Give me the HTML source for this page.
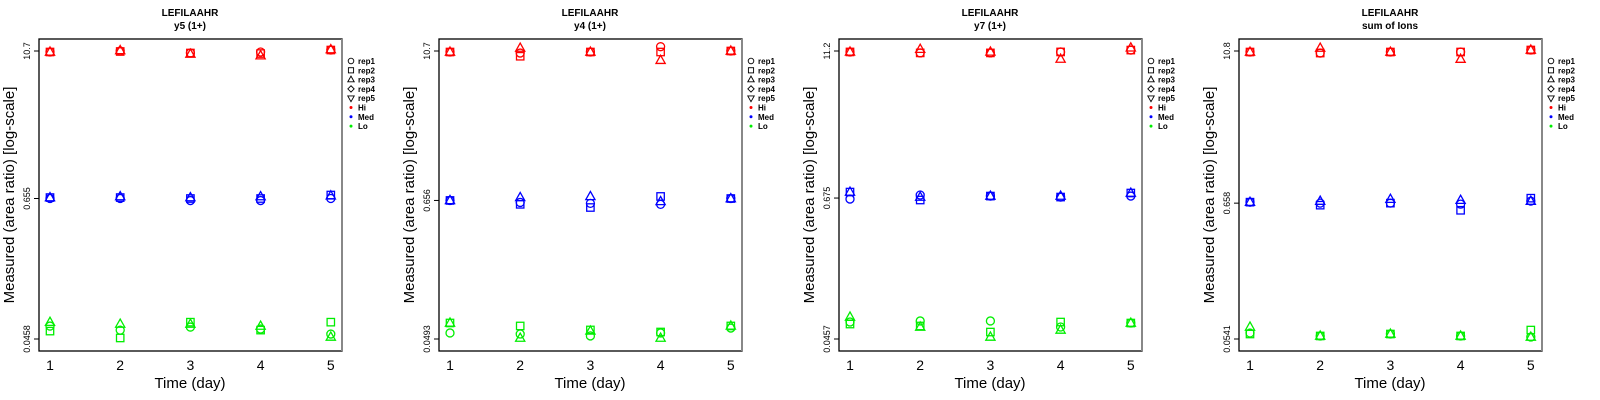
<!DOCTYPE html>
<html><head><meta charset="utf-8"><style>
html,body{margin:0;padding:0;background:#fff;}
svg{display:block;font-family:"Liberation Sans",Arial,sans-serif;}
</style></head><body>
<svg id="chart" width="1600" height="400" xmlns="http://www.w3.org/2000/svg"></svg>
<script>
const days = [1,2,3,4,5];
const panelTitles = ["y5 (1+)","y4 (1+)","y7 (1+)","sum of Ions"];
const tickLabels = [["10.7","0.655","0.0458"],["10.7","0.656","0.0493"],["11.2","0.675","0.0457"],["10.8","0.658","0.0541"]];
const tickValues = [[10.7,0.655,0.0458],[10.7,0.656,0.0493],[11.2,0.675,0.0457],[10.8,0.658,0.0541]];
const groups = ["Hi","Med","Lo"];
const groupColors = ["#ff0000","#0000ff","#00ee00"];
const reps = ["rep1","rep2","rep3","rep4","rep5"];
// panel 1: [group][rep] -> values per day
const p1Hi = [[10.5,10.7,10.3,10.5,10.9],[10.5,10.6,10.3,10.2,10.9],[10.5,10.8,10.1,9.8,11.0]];
const p1Med = [[0.655,0.655,0.63,0.63,0.655],[0.667,0.667,0.655,0.655,0.70],[0.667,0.68,0.667,0.68,0.69]];
const p1Lo = [[0.0585,0.0542,0.0574,0.0553,0.0503],[0.0532,0.0467,0.063,0.0542,0.063],[0.063,0.0608,0.0608,0.0585,0.0476]];
const p2Hi = [[10.5,10.3,10.5,11.6,10.7],[10.5,9.7,10.5,10.5,10.7],[10.5,11.3,10.5,9.0,10.7]];
const p2Med = [[0.656,0.632,0.621,0.61,0.68],[0.656,0.61,0.575,0.707,0.68],[0.656,0.694,0.707,0.644,0.68]];
const p2Lo = [[0.0552,0.0541,0.0522,0.0552,0.0605],[0.0665,0.0629,0.0584,0.0562,0.0629],[0.0665,0.0502,0.0573,0.0502,0.0629]];
const p3Hi = [[11.0,10.8,10.8,11.0,11.4],[11.0,10.8,10.8,11.0,11.4],[11.0,11.6,11.0,9.6,11.9]];
const p3Med = [[0.662,0.715,0.701,0.688,0.701],[0.757,0.65,0.701,0.688,0.743],[0.757,0.688,0.701,0.701,0.743]];
const p3Lo = [[0.0632,0.0645,0.0645,0.0575,0.062],[0.0608,0.0586,0.0522,0.0632,0.062],[0.0696,0.0575,0.0475,0.0543,0.062]];
const p4Hi = [[10.6,10.4,10.6,10.6,11.0],[10.6,10.4,10.6,10.6,11.0],[10.6,11.4,10.6,9.3,11.0]];
const p4Med = [[0.67,0.658,0.658,0.646,0.683],[0.67,0.634,0.658,0.577,0.721],[0.67,0.683,0.708,0.695,0.683]];
const p4Lo = [[0.0604,0.0572,0.0593,0.0572,0.0561],[0.0593,0.0572,0.0593,0.0572,0.0638],[0.0675,0.0572,0.0593,0.0572,0.0561]];
const panelData = [[p1Hi,p1Med,p1Lo],[p2Hi,p2Med,p2Lo],[p3Hi,p3Med,p3Lo],[p4Hi,p4Med,p4Lo]];

const NS="http://www.w3.org/2000/svg";
const svg=document.getElementById('chart');
function mk(tag,attrs,parent){const e=document.createElementNS(NS,tag);for(const k in attrs)e.setAttribute(k,attrs[k]);(parent||svg).appendChild(e);return e;}
function marker(shape,cx,cy,color,parent){
  let e;
  if(shape===0) e=mk('circle',{cx:cx,cy:cy,r:4,fill:'none',stroke:color,'stroke-width':1.3},parent);
  else if(shape===1) e=mk('rect',{x:cx-3.7,y:cy-3.7,width:7.4,height:7.4,fill:'none',stroke:color,'stroke-width':1.3},parent);
  else if(shape===2) e=mk('polygon',{points:`${cx},${cy-5} ${cx+4.6},${cy+3.2} ${cx-4.6},${cy+3.2}`,fill:'none',stroke:color,'stroke-width':1.3},parent);
  else if(shape===3) e=mk('polygon',{points:`${cx},${cy-4.5} ${cx+4.5},${cy} ${cx},${cy+4.5} ${cx-4.5},${cy}`,fill:'none',stroke:color,'stroke-width':1.3},parent);
  else e=mk('polygon',{points:`${cx},${cy+5} ${cx+4.6},${cy-3.2} ${cx-4.6},${cy-3.2}`,fill:'none',stroke:color,'stroke-width':1.3},parent);
  return e;
}
for(let p=0;p<4;p++){
  const o=p*400;
  const g=mk('g',{});
  
  
  const top=tickValues[p][0], bot=tickValues[p][2];
  const yS=v=>339-(Math.log(v/bot)/Math.log(top/bot))*288;
  const xS=d=>o+50+(d-1)*70.2;
  let t=mk('text',{x:o+190,y:16,'text-anchor':'middle','font-size':10,'font-weight':'bold'},g);t.textContent='LEFILAAHR';
  
  t=mk('text',{x:o+190,y:29,'text-anchor':'middle','font-size':10,'font-weight':'bold'},g);t.textContent=panelTitles[p];
  
  const box=mk('rect',{x:o+39,y:39,width:303,height:312,fill:'none',stroke:'#000','stroke-width':1.3},g);
  
  mk('line',{x1:o+342,y1:39,x2:o+342,y2:351,stroke:'#888','stroke-width':2},g);
  for(let i=0;i<3;i++){
    const y=yS(tickValues[p][i]);
    mk('line',{x1:o+34,y1:y,x2:o+39,y2:y,stroke:'#000','stroke-width':1},g);
    const tl=mk('text',{x:o+30,y:y,'text-anchor':'middle','font-size':9,transform:`rotate(-90 ${o+30} ${y})`},g);
    tl.textContent=tickLabels[p][i];
    
  }
  days.forEach(d=>{
    const xl=mk('text',{x:xS(d),y:370,'text-anchor':'middle','font-size':14},g);xl.textContent=d;
    
  });
  t=mk('text',{x:o+190,y:388,'text-anchor':'middle','font-size':15},g);t.textContent='Time (day)';
  
  t=mk('text',{x:o+14,y:195,'text-anchor':'middle','font-size':15,transform:`rotate(-90 ${o+14} 195)`},g);t.textContent='Measured (area ratio) [log-scale]';
  
  panelData[p].forEach((grp,gi)=>{
    grp.forEach((vals,ri)=>{
      vals.forEach((v,di)=>{
        const m=marker(ri,xS(days[di]),yS(v),groupColors[gi],g);
        
        
      });
    });
  });
  const lg=mk('g',{},g);
  
  
  const rows=reps.concat(groups);
  rows.forEach((r,i)=>{
    const y=61+i*9.3;
    if(i<5){const m=mk('g',{transform:`translate(${o+351},${y}) scale(0.7) translate(${-(o+351)},${-y})`},lg);marker(i,o+351,y,'#000',m);}
    else mk('circle',{cx:o+351,cy:y,r:1.5,fill:groupColors[i-5]},lg);
    const lt=mk('text',{x:o+358,y:y+3,'font-size':8,'font-weight':'bold'},lg);lt.textContent=r;
    
  });
}
</script>
</body></html>
